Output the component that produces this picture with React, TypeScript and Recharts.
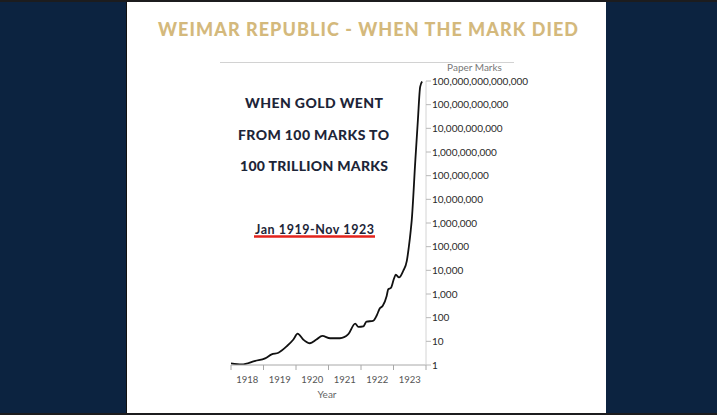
import React from "react";
import { LineChart, Line, XAxis, YAxis } from "recharts";

// decimal-year positions of the readings (Jan 1918 = 1918.00)
const years: number[] = [
  1918.0, 1918.33, 1918.75, 1919.05, 1919.25, 1919.46, 1919.72, 1919.92, 1920.05,
  1920.22, 1920.43, 1920.63, 1920.81, 1921.05, 1921.35, 1921.61, 1921.82, 1921.92,
  1922.07, 1922.17, 1922.37, 1922.48, 1922.58, 1922.67, 1922.79, 1922.84, 1922.92,
  1923.02, 1923.07, 1923.17, 1923.3, 1923.41, 1923.47, 1923.53, 1923.56, 1923.67,
  1923.75, 1923.82, 1923.88,
];

// price of gold in paper marks (as plotted on the chart's log axis)
const goldPrice: number[] = [
  1.17, 1.05, 1.5, 1.9, 2.8, 3.3, 6.3, 12, 21,
  12, 8.3, 12, 17, 13.5, 13.5, 20, 56, 41,
  43, 68, 73, 120, 250, 316, 830, 1600, 1800,
  4700, 6500, 5000, 9600, 25000, 93000, 480000, 1260000, 400000000,
  22000000000, 560000000000, 950000000000,
];

const xTicks: number[] = [1918, 1919, 1920, 1921, 1922, 1923, 1924];

const yTicks: number[] = [
  1, 10, 100, 1000, 10000, 100000, 1000000, 10000000, 100000000,
  1000000000, 10000000000, 100000000000, 1000000000000,
];

const yTickLabels: string[] = [
  "1", "10", "100", "1,000", "10,000", "100,000", "1,000,000", "10,000,000",
  "100,000,000", "1,000,000,000", "10,000,000,000", "100,000,000,000",
  "100,000,000,000,000",
];

const titleText = "WEIMAR REPUBLIC - WHEN THE MARK DIED";
const headlineLines: string[] = ["WHEN GOLD WENT", "FROM 100 MARKS TO", "100 TRILLION MARKS"];
const periodText = "Jan 1919-Nov 1923";

const data = years.map((t, i) => ({ t, price: goldPrice[i] }));

const FONT = "Lato, 'Open Sans', sans-serif";

const XTick = (props: any) => {
  const { x, y, payload } = props;
  if (payload.value >= 1924) return <g />;
  return (
    <text
      x={x + 16.25}
      y={y + 11}
      textAnchor="middle"
      fontSize={9.5}
      fill="#555"
      fontFamily={FONT}
    >
      {payload.value}
    </text>
  );
};

export default function App() {
  return (
    <div
      style={{
        position: "absolute",
        left: 0,
        top: 0,
        width: 717,
        height: 415,
        background: "#0c2340",
        overflow: "hidden",
      }}
    >
      <div style={{ position: "absolute", left: 0, top: 0, width: 717, height: 2, background: "#1c1c1e" }} />
      <div style={{ position: "absolute", left: 0, top: 413, width: 717, height: 2, background: "#1c1c1e" }} />
      <div style={{ position: "absolute", left: 126, top: 2, width: 1, height: 411, background: "#111" }} />
      <div style={{ position: "absolute", left: 127, top: 2, width: 479, height: 411, background: "#ffffff" }} />

      <div style={{ position: "absolute", left: 0, top: 0 }}>
        <LineChart
          width={717}
          height={415}
          data={data}
          margin={{ top: 81, right: 191, bottom: 10, left: 231 }}
        >
          <XAxis
            dataKey="t"
            type="number"
            domain={[1918, 1924]}
            ticks={xTicks}
            interval={0}
            height={40}
            allowDataOverflow
            axisLine={{ stroke: "#a8a8a8", strokeWidth: 1 }}
            tickLine={{ stroke: "#a8a8a8", strokeWidth: 1 }}
            tickSize={5}
            tickMargin={2}
            tick={<XTick />}
          />
          <YAxis
            orientation="right"
            scale="log"
            domain={[1, 1000000000000]}
            ticks={yTicks}
            interval={0}
            width={100}
            allowDataOverflow
            axisLine={{ stroke: "#d4d4d4", strokeWidth: 1 }}
            tickLine={{ stroke: "#b8b8b8", strokeWidth: 1 }}
            tickSize={5}
            tickMargin={1}
            tick={{ fontSize: 10, fill: "#2a2a2a", fontFamily: FONT }}
            tickFormatter={(v: number) => {
              const i = yTicks.indexOf(v);
              return i >= 0 ? yTickLabels[i] : String(v);
            }}
          />
          <Line
            type="monotone"
            dataKey="price"
            stroke="#111111"
            strokeWidth={1.8}
            dot={false}
            isAnimationActive={false}
          />
        </LineChart>
      </div>

      <svg
        width={717}
        height={415}
        style={{ position: "absolute", left: 0, top: 0, pointerEvents: "none" }}
      >
        <text
          x={368}
          y={35.5}
          textAnchor="middle"
          fontFamily={FONT}
          fontWeight={900}
          fontSize={18}
          fill="#d4b97c"
          textLength={420}
        >
          {titleText}
        </text>
        <line x1={220} y1={62.5} x2={514} y2={62.5} stroke="#d2d2d2" strokeWidth={1} />
        <text x={474.5} y={71} textAnchor="middle" fontFamily={FONT} fontSize={10} fill="#777">
          Paper Marks
        </text>
        <text x={314} y={108} textAnchor="middle" fontFamily={FONT} fontWeight={900} fontSize={14} fill="#1d2538" textLength={138}>
          {headlineLines[0]}
        </text>
        <text x={313.5} y={139.5} textAnchor="middle" fontFamily={FONT} fontWeight={900} fontSize={14} fill="#1d2538" textLength={151}>
          {headlineLines[1]}
        </text>
        <text x={314} y={170.5} textAnchor="middle" fontFamily={FONT} fontWeight={900} fontSize={14} fill="#1d2538" textLength={148}>
          {headlineLines[2]}
        </text>
        <text x={314.5} y={233.5} textAnchor="middle" fontFamily={FONT} fontWeight={700} fontSize={12.5} fill="#1d2538" textLength={119}>
          {periodText}
        </text>
        <line x1={254} y1={236.5} x2={375} y2={236.5} stroke="#e3231c" strokeWidth={2.5} />
        <text x={327} y={398} textAnchor="middle" fontFamily={FONT} fontSize={10} fill="#666">
          Year
        </text>
      </svg>
    </div>
  );
}
